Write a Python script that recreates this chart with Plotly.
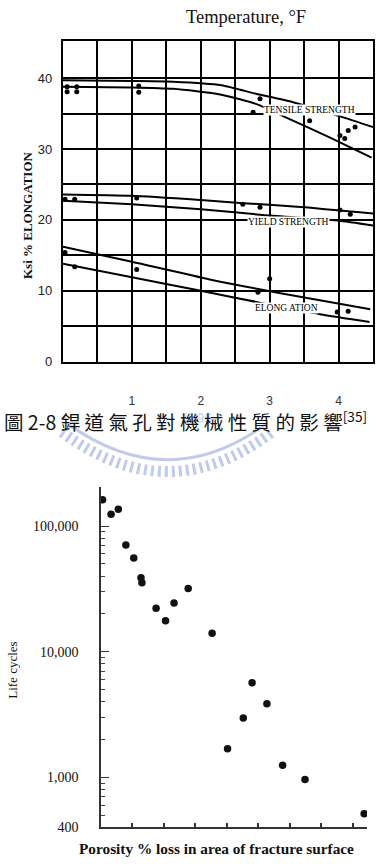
import math
import plotly.graph_objects as go

W, H = 389, 868


def fx(px):
    return px / W


def fy(py):
    return 1 - py / H


# ---------------- Top chart data ----------------
temp_tick_vals = [1, 2, 3, 4]
temp_tick_text = ["1", "2", "3", "4"]
temp_grid_minor = [0.5, 1.5, 2.5, 3.5]
ksi_tick_vals = [0, 10, 20, 30, 40]
ksi_tick_text = ["0", "10", "20", "30", "40"]
ksi_grid_minor = [5, 15, 25, 35]

tensile_upper_x = [0, 1.0, 1.6, 2.3, 2.8, 3.34, 4.09, 4.5]
tensile_upper_y = [39.7, 39.6, 39.5, 39.0, 37.8, 36.6, 34.4, 33.1]
tensile_lower_x = [0, 1.0, 1.6, 2.28, 2.82, 3.25, 3.9, 4.48]
tensile_lower_y = [38.8, 38.7, 38.5, 37.7, 36.3, 34.4, 31.5, 28.8]
tensile_pts_x = [0.06, 0.06, 0.2, 0.2, 1.1, 1.1, 2.86, 2.76, 3.58, 4.02, 4.09, 4.14, 4.24]
tensile_pts_y = [38.8, 38.1, 38.8, 38.1, 38.9, 38.0, 37.1, 35.2, 34.0, 31.9, 31.5, 32.6, 33.1]

yield_upper_x = [0, 1.0, 2.0, 2.57, 3.5, 4.5]
yield_upper_y = [23.6, 23.4, 22.8, 22.4, 21.8, 20.9]
yield_lower_x = [0, 1.0, 2.0, 2.9, 3.98, 4.5]
yield_lower_y = [22.7, 22.2, 21.5, 20.7, 19.9, 19.2]
yield_pts_x = [0.03, 0.17, 1.07, 2.61, 2.86, 4.02, 4.17]
yield_pts_y = [22.9, 22.9, 23.1, 22.2, 21.8, 21.4, 20.8]

elong_upper_x = [0, 1.0, 2.13, 3.3, 4.46]
elong_upper_y = [16.2, 14.1, 11.6, 9.4, 7.4]
elong_lower_x = [0, 1.0, 2.0, 2.82, 3.73, 4.45]
elong_lower_y = [13.8, 11.9, 10.0, 8.4, 6.7, 5.6]
elong_pts_x = [0.03, 0.17, 1.07, 3.0, 2.83, 3.98, 4.14]
elong_pts_y = [15.4, 13.4, 13.0, 11.7, 9.8, 7.0, 7.1]

band_labels = ["TENSILE STRENGTH", "YIELD STRENGTH", "ELONG ATION"]
band_label_x = [3.58, 3.28, 3.24]
band_label_y = [35.5, 19.7, 7.55]

# ---------------- Bottom chart data ----------------
porosity = [0.05, 0.32, 0.55, 0.79, 1.04, 1.27, 1.30, 1.75, 2.05, 2.32, 2.77,
            3.53, 4.80, 5.27, 4.52, 4.02, 5.77, 6.48, 8.36]
life_cycles = [162000, 124000, 136000, 70800, 55700, 38700, 35400, 22200, 17600,
               24400, 31900, 14000, 5670, 3850, 2970, 1690, 1250, 960, 514]
life_tick_vals = [400, 1000, 10000, 100000]
life_tick_text = ["400", "1,000", "10,000", "100,000"]
porosity_ticks = [1, 2, 3, 4, 5, 6, 7, 8]

minor_vals = []
for dec in [100, 1000, 10000, 100000]:
    for m in range(2, 10):
        v = m * dec
        if 400 < v <= 203000:
            minor_vals.append(v)

fig = go.Figure()

line_style = dict(color="black", width=2, shape="spline", smoothing=0.6)
for xs, ys in [(tensile_upper_x, tensile_upper_y), (tensile_lower_x, tensile_lower_y),
               (yield_upper_x, yield_upper_y), (yield_lower_x, yield_lower_y),
               (elong_upper_x, elong_upper_y), (elong_lower_x, elong_lower_y)]:
    fig.add_trace(go.Scatter(x=xs, y=ys, mode="lines", line=line_style,
                             xaxis="x", yaxis="y", showlegend=False, hoverinfo="skip"))

for xs, ys in [(tensile_pts_x, tensile_pts_y), (yield_pts_x, yield_pts_y),
               (elong_pts_x, elong_pts_y)]:
    fig.add_trace(go.Scatter(x=xs, y=ys, mode="markers",
                             marker=dict(color="black", size=5),
                             xaxis="x", yaxis="y", showlegend=False, hoverinfo="skip"))

fig.add_trace(go.Scatter(x=porosity, y=life_cycles, mode="markers",
                         marker=dict(color="#111", size=7.5),
                         xaxis="x2", yaxis="y2", showlegend=False, hoverinfo="skip"))

annotations = []
for t, x, y in zip(band_labels, band_label_x, band_label_y):
    annotations.append(dict(text=t, x=x, y=y, xref="x", yref="y", showarrow=False,
                            xanchor="center", yanchor="middle",
                            font=dict(family="Liberation Serif", size=9.5, color="#000"),
                            bgcolor="white", borderpad=0))


def pann(text, px, py, size, family="Liberation Serif", angle=0, color="#111",
         xanchor="center"):
    return dict(text=text, x=fx(px), y=fy(py), xref="paper", yref="paper",
                showarrow=False, xanchor=xanchor, yanchor="middle", textangle=angle,
                font=dict(family=family, size=size, color=color))


# watermark text (behind caption)
annotations.append(pann("<b>1896</b>", 196, 422, 14, family="Liberation Sans",
                        color="rgba(150,165,220,0.4)"))
annotations.append(pann("Temperature, °F", 246, 17, 18.5))
annotations.append(pann("<b>Ksi % ELONGATION</b>", 27, 217, 13, angle=-90))
annotations.append(pann("圖 2-8 銲 道 氣 孔 對 機 械 性 質 的 影 響<sup>[35]</sup>", 2, 425, 19.5,
                        family="Noto Sans CJK TC", xanchor="left"))
annotations.append(pann("Life cycles", 13, 677, 13, angle=-90))
annotations.append(pann("<b>Porosity % loss in area of fracture surface</b>", 217, 856, 15.3))


def qpath(p0, c, p1):
    return "M {} {} Q {} {} {} {}".format(fx(p0[0]), fy(p0[1]), fx(c[0]), fy(c[1]),
                                          fx(p1[0]), fy(p1[1]))


shapes = [
    dict(type="path", xref="paper", yref="paper",
         path=qpath((62, 436), (168, 516), (272, 436)),
         line=dict(color="rgba(140,158,220,0.55)", width=11, dash="3px,4px"), layer="below"),
    dict(type="path", xref="paper", yref="paper",
         path=qpath((68, 428), (168, 500), (266, 428)),
         line=dict(color="rgba(140,158,220,0.55)", width=3), layer="below"),
]

grid_minor = dict(showgrid=True, gridcolor="black", gridwidth=1.6, ticks="")

fig.update_layout(
    width=W, height=H,
    margin=dict(l=0, r=0, t=0, b=0),
    paper_bgcolor="white", plot_bgcolor="white",
    showlegend=False,
    annotations=annotations,
    shapes=shapes,
    xaxis=dict(domain=[fx(63), fx(373)], range=[0, 4.5], anchor="y",
               tickmode="array", tickvals=temp_tick_vals, ticktext=temp_tick_text,
               minor=dict(tickmode="array", tickvals=temp_grid_minor, **grid_minor),
               showgrid=True, gridcolor="black", gridwidth=1.6,
               showline=True, mirror=True, linecolor="black", linewidth=2.2,
               ticks="", ticklabelstandoff=27, zeroline=False,
               tickfont=dict(family="Liberation Sans", size=12, color="#333")),
    yaxis=dict(domain=[fy(365), fy(41)], range=[0, 45.3], anchor="x",
               tickmode="array", tickvals=ksi_tick_vals, ticktext=ksi_tick_text,
               minor=dict(tickmode="array", tickvals=ksi_grid_minor, **grid_minor),
               showgrid=True, gridcolor="black", gridwidth=1.6,
               showline=True, mirror=True, linecolor="black", linewidth=2.2,
               ticks="", ticklabelstandoff=6, zeroline=False,
               tickfont=dict(family="Liberation Sans", size=13, color="#222")),
    xaxis2=dict(domain=[fx(101), fx(367)], range=[0, 8.45], anchor="y2",
                tickmode="array", tickvals=porosity_ticks, ticks="inside", ticklen=5,
                tickwidth=1.5, tickcolor="#333", showticklabels=False, showgrid=False,
                showline=True, linecolor="#333", linewidth=1.5, zeroline=False),
    yaxis2=dict(domain=[fy(835), fy(492)], type="log",
                range=[math.log10(400), 5.307], anchor="x2",
                tickmode="array", tickvals=life_tick_vals, ticktext=life_tick_text,
                ticks="inside", ticklen=8, tickwidth=1.3, tickcolor="#333",
                minor=dict(tickmode="array", tickvals=minor_vals, ticks="inside",
                           ticklen=4, tickwidth=1, tickcolor="#444", showgrid=False),
                ticklabelstandoff=18, showgrid=False, zeroline=False,
                showline=True, linecolor="#333", linewidth=1.5,
                tickfont=dict(family="Liberation Serif", size=14, color="#111")),
)

fig.write_html("out.html")
